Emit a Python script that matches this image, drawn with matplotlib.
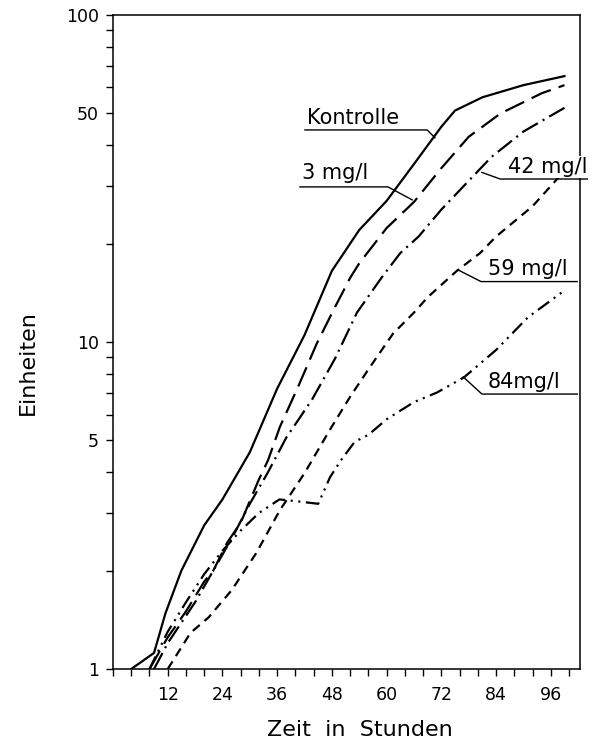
"""Wachstum (Einheiten, log) gegen Zeit fuer Kontrolle und vier Konzentrationen."""

import matplotlib

matplotlib.use("Agg")
import matplotlib.pyplot as plt
from matplotlib.ticker import FixedLocator, MultipleLocator, NullFormatter

plt.rcParams["lines.scale_dashes"] = False
plt.rcParams["font.family"] = ["DejaVu Sans"]

H_KONTROLLE = [4, 9, 11.5, 15, 20, 24, 30, 36, 42, 48, 54, 60, 66, 72, 75, 81, 90, 99]
V_KONTROLLE = [1.0, 1.12, 1.48, 2.0, 2.75, 3.3, 4.6, 7.2, 10.5, 16.5, 22, 27, 35, 45.5, 51, 56, 61, 65]

H_3MG = [8, 12, 16, 20, 22, 25, 28, 32, 34, 36.6, 40.6, 44.7, 48.7, 52, 54, 60, 66, 72, 78, 85, 94, 99]
V_3MG = [1.0, 1.25, 1.5, 1.85, 2.0, 2.43, 2.8, 3.8, 4.35, 5.5, 7.3, 9.9, 12.8, 15.7, 17.4, 22.3, 26.8, 34, 42.4, 50, 57.6, 61]

H_42MG = [9, 12, 18, 22, 26, 30, 34, 38, 43.6, 48.7, 53.5, 59, 63, 67, 72, 83, 90, 99]
V_42MG = [1.0, 1.2, 1.6, 2.0, 2.5, 3.2, 4.0, 5.1, 6.65, 8.9, 12.3, 15.8, 18.7, 21, 25.4, 36.8, 44, 52]

H_59MG = [12, 17, 21, 26, 31.4, 36.6, 42, 47.6, 52, 56.4, 61.4, 66, 69, 75.4, 80.5, 84, 92, 98.7]
V_59MG = [1.0, 1.29, 1.44, 1.74, 2.26, 3.06, 3.97, 5.4, 6.8, 8.4, 10.6, 12.3, 13.7, 16.5, 18.7, 21, 26, 33]

H_84MG = [8, 12, 16, 20, 24, 28, 32, 36.5, 41, 45, 47.6, 50, 53, 56, 60, 66, 71, 77, 84, 91, 98.5]
V_84MG = [1.0, 1.3, 1.6, 1.95, 2.3, 2.65, 3.0, 3.3, 3.25, 3.2, 3.86, 4.35, 4.95, 5.2, 5.8, 6.55, 7.0, 7.8, 9.45, 11.9, 14.2]

X_TICKS = [12, 24, 36, 48, 60, 72, 84, 96]
Y_TICKS = [1, 5, 10, 50, 100]
Y_TICKLABELS = ["1", "5", "10", "50", "100"]

# (Text, Textposition, Unterstrich von/bis x, Unterstrich y, Punkt auf Kurve)
LABELS = [
    ("Kontrolle", (42.5, 48.4), (42.1, 68.9), 44.5, (70.6, 42.1)),
    ("3 mg/l", (41.4, 32.9), (41.0, 60.3), 29.8, (65.6, 27.2)),
    ("42 mg/l", (86.6, 34.3), (84.9, 104.0), 31.5, (80.9, 33.0)),
    ("59 mg/l", (82.2, 16.7), (80.7, 101.8), 15.3, (75.7, 16.6)),
    ("84mg/l", (82.2, 7.55), (80.9, 101.8), 6.93, (76.8, 7.82)),
]


def main() -> None:
    fig = plt.figure(figsize=(6.01, 7.47), dpi=100)
    ax = fig.add_axes([0.188, 0.1044, 0.777, 0.8756])

    lw = 1.6
    ax.plot(H_KONTROLLE, V_KONTROLLE, color="black", lw=lw)
    ax.plot(H_3MG, V_3MG, color="black", lw=lw, linestyle=(0, (15, 6)))
    ax.plot(H_42MG, V_42MG, color="black", lw=lw, linestyle=(0, (13, 4, 1.5, 4)))
    ax.plot(H_59MG, V_59MG, color="black", lw=lw, linestyle=(0, (6.5, 4.5)))
    ax.plot(H_84MG, V_84MG, color="black", lw=lw,
            linestyle=(0, (10, 4, 1.5, 4, 1.5, 4)))

    for text, (tx, ty), (ux0, ux1), uy, (cx, cy) in LABELS:
        ax.text(tx, ty, text, fontsize=15, va="center", ha="left",
                clip_on=False, zorder=4,
                bbox=dict(facecolor="white", edgecolor="none", pad=0.5))
        # leader from the curve to the nearer end of the underline
        if cx > ux1:
            xs, ys = [ux0, ux1, cx], [uy, uy, cy]
        else:
            xs, ys = [cx, ux0, ux1], [cy, uy, uy]
        ax.plot(xs, ys, color="black", lw=1.0, clip_on=False, zorder=5)

    ax.set_yscale("log")
    ax.set_xlim(0, 102.4)
    ax.set_ylim(1, 100)

    ax.xaxis.set_major_locator(FixedLocator(X_TICKS))
    ax.xaxis.set_minor_locator(MultipleLocator(4))
    ax.yaxis.set_major_locator(FixedLocator(Y_TICKS))
    ax.set_yticklabels(Y_TICKLABELS)
    ax.yaxis.set_minor_locator(FixedLocator(
        [2, 3, 4, 6, 7, 8, 9, 20, 30, 40, 60, 70, 80, 90]))
    ax.yaxis.set_minor_formatter(NullFormatter())

    ax.tick_params(axis="both", which="both", direction="out", width=1.0,
                   length=5, labelsize=12.5)
    ax.tick_params(axis="y", which="major", pad=5)
    ax.tick_params(axis="x", which="major", pad=7)

    for sp in ax.spines.values():
        sp.set_linewidth(1.1)

    ax.set_xlabel("Zeit  in  Stunden", fontsize=16)
    ax.xaxis.label.set_va("center")
    ax.xaxis.set_label_coords(0.529, -0.093)
    ax.set_ylabel("Einheiten", fontsize=16)
    ax.yaxis.label.set_va("center")
    ax.yaxis.set_label_coords(-0.182, 0.468)

    fig.savefig("out.png", dpi=100)


if __name__ == "__main__":
    main()
